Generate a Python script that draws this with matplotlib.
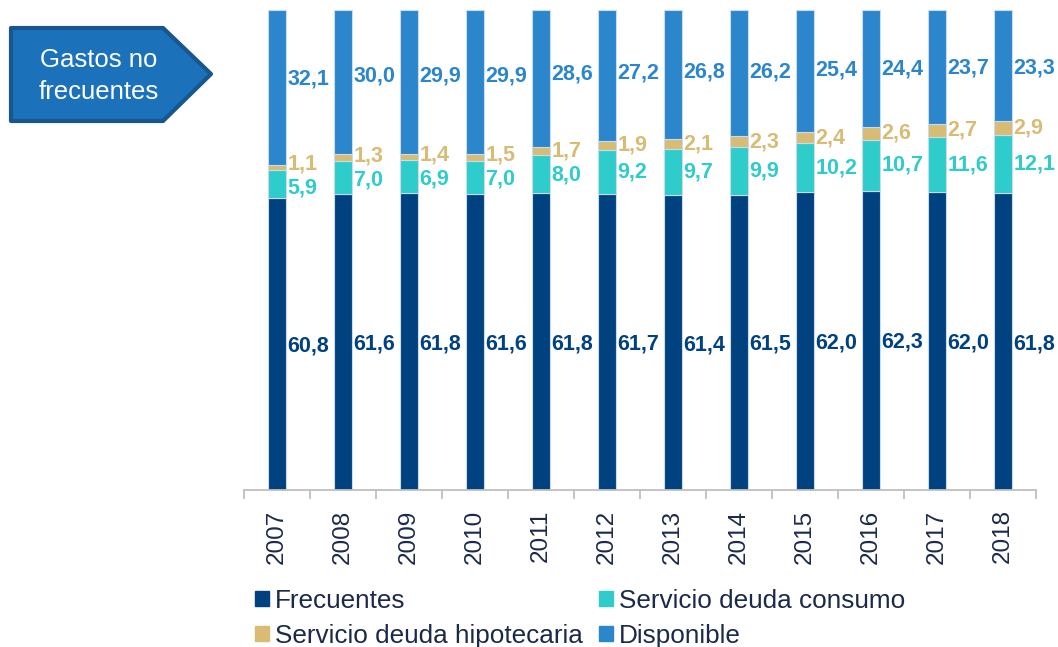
import numpy as np
import matplotlib
matplotlib.use("Agg")
import matplotlib.pyplot as plt
from matplotlib.patches import Polygon, Patch

plt.rcParams['font.family'] = ['Liberation Sans', 'DejaVu Sans']

# data
years = ["2007", "2008", "2009", "2010", "2011", "2012",
         "2013", "2014", "2015", "2016", "2017", "2018"]
frecuentes = [60.8, 61.6, 61.8, 61.6, 61.8, 61.7, 61.4, 61.5, 62.0, 62.3, 62.0, 61.8]
consumo = [5.9, 7.0, 6.9, 7.0, 8.0, 9.2, 9.7, 9.9, 10.2, 10.7, 11.6, 12.1]
hipotecaria = [1.1, 1.3, 1.4, 1.5, 1.7, 1.9, 2.1, 2.3, 2.4, 2.6, 2.7, 2.9]
disponible = [32.1, 30.0, 29.9, 29.9, 28.6, 27.2, 26.8, 26.2, 25.4, 24.4, 23.7, 23.3]

c_frec = "#00427F"
c_cons = "#2ECCCB"
c_hip = "#D8BC74"
c_disp = "#2B86CC"
c_text = "#1B2A4A"

W, H = 1058, 647
fig = plt.figure(figsize=(W / 100, H / 100), dpi=100)
ax = fig.add_axes([244 / W, 1 - 490 / H, 792 / W, 482.4 / H])

x = np.arange(len(years))
bw = 0.27
f = np.array(frecuentes)
c = np.array(consumo)
h = np.array(hipotecaria)
d = np.array(disponible)

edge = dict(edgecolor="#C9DCEF", linewidth=0.8)
ax.bar(x, f, bw, color=c_frec, **edge)
ax.bar(x, c, bw, bottom=f, color=c_cons, **edge)
ax.bar(x, h, bw, bottom=f + c, color=c_hip, **edge)
ax.bar(x, d, bw, bottom=f + c + h, color=c_disp, **edge)

ax.set_xlim(-0.5, len(years) - 0.5)
ax.set_ylim(0, 100.5)

# value labels to the right of each bar
def fmt(v):
    return f"{v:.1f}".replace(".", ",")

lab = dict(fontsize=15.5, fontweight="bold", ha="left", va="center")
for i in range(len(years)):
    xl = x[i] + bw / 2 + 0.02
    yc_f = f[i] / 2 - 0.4
    yc_c = f[i] + c[i] / 2
    yc_h = f[i] + c[i] + h[i] / 2
    yc_d = (f[i] + c[i] + h[i] + d[i] / 2 + 87.5) / 2
    gap = yc_h - yc_c
    if gap < 5:
        shift = (5 - gap) / 2
        yc_c -= shift
        yc_h += shift
    ax.text(xl, yc_f, fmt(f[i]), color=c_frec, **lab)
    ax.text(xl, yc_c, fmt(c[i]), color=c_cons, **lab)
    ax.text(xl, yc_h, fmt(h[i]), color=c_hip, **lab)
    ax.text(xl, yc_d, fmt(d[i]), color=c_disp, **lab)

for s in ["top", "right", "left"]:
    ax.spines[s].set_visible(False)
ax.spines["bottom"].set_color("#BFBFBF")
ax.spines["bottom"].set_linewidth(1.3)
ax.set_yticks([])

ax.set_xticks(np.arange(-0.5, len(years), 1.0))
ax.set_xticklabels([])
ax.tick_params(axis="x", which="major", length=6.5, width=1.3, color="#BFBFBF", direction="out")
ax.set_xticks(x, minor=True)
ax.set_xticklabels(years, minor=True, rotation=90, fontsize=17.5, color=c_text)
ax.tick_params(axis="x", which="minor", length=0, pad=14)

# legend
handles = [Patch(color=c_frec, label="Frecuentes"),
           Patch(color=c_hip, label="Servicio deuda hipotecaria"),
           Patch(color=c_cons, label="Servicio deuda consumo"),
           Patch(color=c_disp, label="Disponible")]
leg = fig.legend(handles=handles, ncol=2, loc="upper left",
                 bbox_to_anchor=(255 / W, 1 - 589 / H), frameon=False,
                 fontsize=18.8, handlelength=0.53, handleheight=0.53,
                 handletextpad=0.22, columnspacing=0.65, labelspacing=0.42,
                 borderpad=0, borderaxespad=0)
for t in leg.get_texts():
    t.set_color(c_text)

# callout box "Gastos no frecuentes"
pts = [(11, 28), (163, 28), (211, 74), (163, 121), (11, 121)]
pts = [(px / W, 1 - py / H) for px, py in pts]
fig.patches.append(Polygon(pts, closed=True, transform=fig.transFigure,
                           facecolor="#1B72BA", edgecolor="#17568E",
                           linewidth=3, joinstyle="round"))
fig.text(99 / W, 1 - 76 / H, "Gastos no\nfrecuentes", color="white",
         fontsize=18.5, ha="center", va="center", linespacing=1.4)

fig.savefig("out.png", dpi=100)
